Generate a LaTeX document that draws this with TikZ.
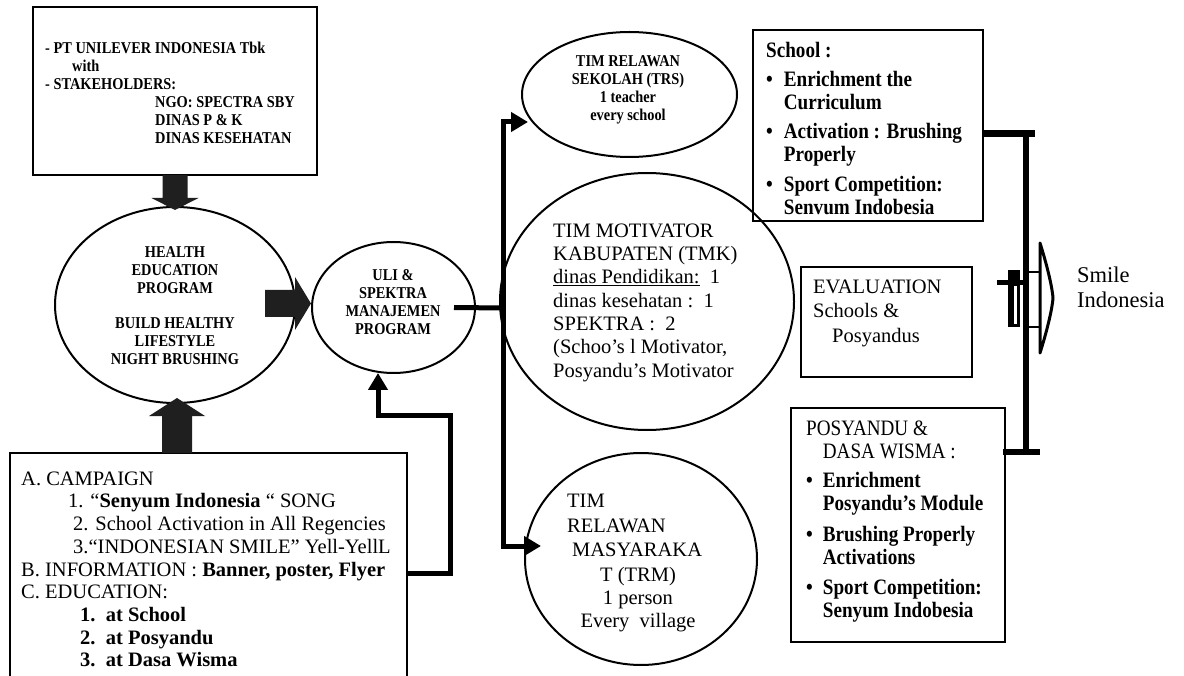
\documentclass[tikz,border=0pt]{standalone}
\usepackage{fontspec}
\setmainfont{Liberation Serif}
\newfontfamily\narrowserif[FakeStretch=0.87]{Liberation Serif}
\usetikzlibrary{shapes.geometric,arrows.meta,calc}

\newcommand\tagfont{\narrowserif\bfseries\fontsize{16.5}{18}\selectfont}
\newcommand\bodyfont{\fontsize{20.5}{23.3}\selectfont}
\newcommand\listfont{\narrowserif\bfseries\fontsize{22}{23}\selectfont}

\begin{document}
\begin{tikzpicture}[x=1pt,y=-1pt,
  frame/.style={draw, line width=2.6pt, inner sep=0pt, outer sep=0pt, anchor=north west},
  oval/.style={draw, ellipse, line width=2pt, inner sep=0pt},
  lefttext/.style={inner sep=0pt, anchor=north west, align=left},
  midtext/.style={inner sep=0pt, anchor=north, align=center},
  link/.style={line width=5pt, line join=miter},
  linkarrow/.style={link, -{Triangle[length=17pt,width=19pt]}},
  blockarrow/.style={fill=black!88},
]
\useasboundingbox (0,0) rectangle (1184,676);
\clip (0,0) rectangle (1184,676);

% rectangular boxes
\node[frame, minimum width=284pt, minimum height=168pt] (sponsor) at (33,7) {};
\node[frame, minimum width=397pt, minimum height=260pt] (campaign) at (10,453) {};
\node[frame, line width=2.4pt, minimum width=230pt, minimum height=191pt] (school) at (753,30) {};
\node[frame, line width=2.4pt, minimum width=171pt, minimum height=110pt] (evaluation) at (801,267) {};
\node[frame, line width=2.4pt, minimum width=214pt, minimum height=234pt] (posyandu) at (791,408) {};

% ellipses
\node[oval, minimum width=240pt, minimum height=196pt] (health) at (175,305) {};
\node[oval, minimum width=163pt, minimum height=131pt] (uli) at (393.5,307.5) {};
\node[oval, minimum width=215pt, minimum height=125pt] (trs) at (629.5,94.5) {};
\node[oval, minimum width=294pt, minimum height=257pt] (tmk) at (647,301.5) {};
\node[oval, minimum width=232pt, minimum height=212pt] (trm) at (641,559) {};

% block arrows
\fill[blockarrow] ($(sponsor.south)+(-12.5,0)$) -- ++(25,0) -- ++(0,23) -- ++(11,0)
  -- ++(-23.5,12) -- ++(-23.5,-12) -- ++(11,0) -- cycle;
\fill[blockarrow] (162,453) -- (192,453) -- (192,416) -- (205,416) -- (177,398)
  -- (149,416) -- (162,416) -- cycle;
\fill[blockarrow] (265,290) -- (295,290) -- (295,277) -- (311,303.5) -- (295,330)
  -- (295,317) -- (265,317) -- cycle;

% management hub and its branches
\coordinate (hub) at (503,308);
\coordinate (trsin) at (528,122);
\coordinate (trmin) at (541,546);
\draw[link] ($(uli.east)+(-22,0)$) -- (hub);
\draw[linkarrow] (hub) |- (trsin);
\draw[linkarrow] (hub) |- (trmin);

% campaign feedback line
\coordinate (campout) at (407,573);
\coordinate (bendlow) at (450,573);
\coordinate (bendhigh) at (450,415);
\coordinate (uliin) at (378,373);
\draw[linkarrow] (campout) -- (bendlow) -- (bendhigh) -| (uliin);

% right bracket collecting school and posyandu
\draw[line width=6pt] (1026,131) -- (1026,455);
\draw[line width=7pt] (983,134) -- (1035,134);
\draw[line width=6pt] (1003,452) -- (1040,452);
\draw[line width=5pt] (997,283) -- (1026,283);
\fill (1008,270) rectangle (1020,327);
\fill[white] (1014,286) rectangle (1016.5,324);

% open outcome arrow
\draw[line width=2.5pt] (1029,272) -- (1040,272);
\draw[line width=2.5pt] (1029,327) -- (1040,327);
\draw[line width=3pt, fill=white, line join=round] (1040,243)
  .. controls (1046,262) and (1052,285) .. (1053,298)
  .. controls (1052,311) and (1046,334) .. (1040,353) -- cycle;

% texts
\node[lefttext, font=\tagfont] (sponsortext) at (45,42)
  {- PT UNILEVER INDONESIA Tbk\\\hspace*{27pt}with\\- STAKEHOLDERS:\\
   \hspace*{110pt}NGO: SPECTRA SBY\\\hspace*{110pt}DINAS P \& K\\\hspace*{110pt}DINAS KESEHATAN};

\node[midtext, font=\tagfont] (healthtext) at (175,246)
  {HEALTH\\EDUCATION\\PROGRAM\\[17pt]BUILD HEALTHY\\LIFESTYLE\\NIGHT BRUSHING};

\node[midtext, font=\tagfont] (ulitext) at (393,269) {ULI \&\\SPEKTRA\\MANAJEMEN\\PROGRAM};

\node[midtext, font=\tagfont] (trstext) at (628,55) {TIM RELAWAN\\SEKOLAH (TRS)\\1 teacher\\every school};

\node[lefttext, font=\bodyfont] (tmktext) at (553,223.5)
  {TIM MOTIVATOR\\KABUPATEN (TMK)\\\underline{dinas Pendidikan:}\ \ 1\\dinas kesehatan :\ \ 1\\
   SPEKTRA :\ \ 2\\(Schoo’s l Motivator,\\Posyandu’s Motivator};

\node[lefttext, font={\fontsize{20.5}{24.5}\selectfont}] (trmhead) at (567,494)
  {TIM\\RELAWAN\\\hspace*{5pt}MASYARAKA};
\node[midtext, font={\fontsize{20.5}{23}\selectfont}] (trmbody) at (638,567)
  {T (TRM)\\1 person\\Every\ \ village};

\node[lefttext, font={\fontsize{20.5}{22.7}\selectfont}] (campaigntext) at (21,471.5)
  {A. CAMPAIGN\\
   \hspace*{47pt}1. “\textbf{Senyum Indonesia} “ SONG\\
   \hspace*{52pt}2. School Activation in All Regencies\\
   \hspace*{52pt}3.“INDONESIAN SMILE” Yell-YellL\\
   B. INFORMATION : \textbf{Banner, poster, Flyer}\\
   C. EDUCATION:\\
   \hspace*{59pt}\textbf{1.\ \ at School}\\
   \hspace*{59pt}\textbf{2.\ \ at Posyandu}\\
   \hspace*{59pt}\textbf{3.\ \ at Dasa Wisma}};

\node[lefttext, font=\listfont] (schooltext) at (766,41)
  {\begin{tabular}{@{}l@{\hspace{11pt}}l@{}}
   \multicolumn{2}{@{}l@{}}{School :}\\[6pt]
   \textbullet & Enrichment the\\
    & Curriculum\\[6pt]
   \textbullet & Activation : Brushing\\
    & Properly\\[7pt]
   \textbullet & Sport Competition:\\
    & Senvum Indobesia
   \end{tabular}};

\node[lefttext, font={\fontsize{20.5}{24.5}\selectfont}] (evaltext) at (813,279.5)
  {EVALUATION\\Schools \&\\\hspace*{19pt}Posyandus};

\node[lefttext, font=\listfont] (posyandutext) at (806,419)
  {\begin{tabular}{@{}l@{\hspace{10pt}}l@{}}
   \multicolumn{2}{@{}l@{}}{\mdseries POSYANDU \&}\\
    & \mdseries DASA WISMA :\\[6pt]
   \textbullet & Enrichment\\
    & Posyandu’s Module\\[8pt]
   \textbullet & Brushing Properly\\
    & Activations\\[7pt]
   \textbullet & Sport Competition:\\
    & Senyum Indobesia
   \end{tabular}};

\node[lefttext, font={\fontsize{22.5}{25}\selectfont}] (smile) at (1077,266.5) {Smile\\Indonesia};

\end{tikzpicture}
\end{document}
